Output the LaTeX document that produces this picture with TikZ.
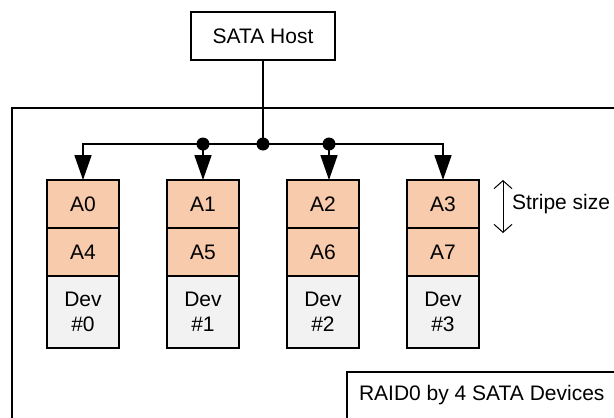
\documentclass[tikz,border=0pt]{standalone}
\usepackage{fontspec}
\setmainfont{Liberation Sans}
\usetikzlibrary{arrows.meta}
\definecolor{mpeach}{RGB}{248,203,173}
\definecolor{mgray}{RGB}{242,242,242}

\begin{document}
\begin{tikzpicture}[y=1pt, x=1pt, yscale=-1, inner sep=0pt, outer sep=0pt,
  line width=1.7pt, font=\fontsize{21}{25}\selectfont,
  blk/.style={draw, minimum width=72pt, minimum height=48pt},
  tap/.style={-{Triangle[length=25pt, width=17pt]}}]

\useasboundingbox (0,0) rectangle (614,418);
\clip (0,0) rectangle (614,418);

% enclosure
\draw (12,108) rectangle (650,450);

% host
\node[draw, minimum width=144pt, minimum height=48pt] (host) at (263,36) {SATA Host};

% devices
\foreach \i/\j/\x in {0/4/83, 1/5/203, 2/6/323, 3/7/443} {
  \node[blk, fill=mpeach] (a\i) at (\x,204) {A\i};
  \node[blk, fill=mpeach] (b\i) at (\x,252) {A\j};
  \node[blk, fill=mgray, minimum height=72pt, align=center] (dev\i) at (\x,312) {Dev\\\#\i};
}

% bus
\coordinate (bus) at (263,144);
\coordinate (tap1) at (203,144);
\coordinate (tap2) at (329,144);
\draw (host.south) -- (bus);
\draw[tap] (bus) -| (a0.north);
\draw[tap] (bus) -| (a3.north);
\draw[tap] (tap1) -- (tap1 |- a1.north);
\draw[tap] (tap2) -- (tap2 |- a2.north);
\fill (bus) circle (6.5);
\fill (tap1) circle (6.5);
\fill (tap2) circle (6.5);

% stripe size
\coordinate (s1) at (503,180);
\coordinate (s2) at (503,233);
\draw[line width=1pt, {Straight Barb[length=8pt, width=18pt]}-{Straight Barb[length=8pt, width=18pt]}] (s1) -- (s2);
\node[anchor=west] (stripe) at (512,204) {Stripe size};

% label
\draw (347,372) rectangle (650,450);
\node[anchor=west] (raid) at (359,395) {RAID0 by 4 SATA Devices};

\end{tikzpicture}
\end{document}
